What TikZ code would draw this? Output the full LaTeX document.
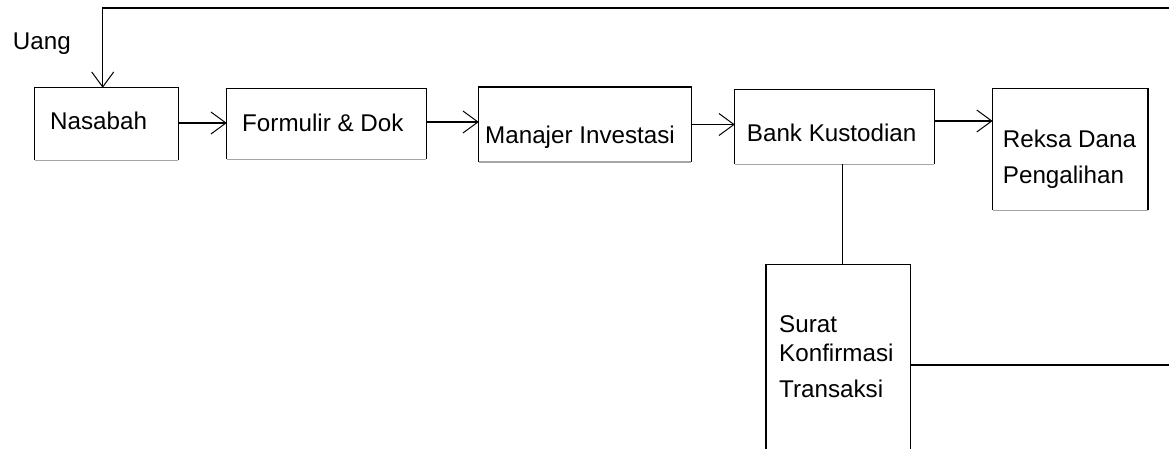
\documentclass[tikz,border=0pt]{standalone}
\usepackage{fontspec}
\setmainfont{Liberation Sans}
\usetikzlibrary{arrows.meta}
\begin{document}
\begin{tikzpicture}[x=1pt,y=-1pt,
  box/.style={draw=none,inner sep=0pt,minimum width=#1},
  lbl/.style={anchor=base west,inner sep=0pt,font=\fontsize{24.2}{29}\selectfont},
  arr/.style={line width=1.2pt,-{Straight Barb[length=15pt,width=22pt,line width=1pt]}},
  ln/.style={line width=1.2pt}]
\useasboundingbox (0,0) rectangle (1169,449);
\clip (0,0) rectangle (1169,449);
% boxes
\node[box=143,minimum height=72] (nas) at (106.5,124) {};
\node[box=199,minimum height=70] (form) at (326.5,124) {};
\node[box=212,minimum height=74.5] (man) at (585,124.5) {};
\node[box=199,minimum height=74] (bank) at (834.5,127) {};
\node[box=155,minimum height=121] (reksa) at (1070.3,149.5) {};
\node[box=144,minimum height=200] (surat) at (838.2,364.7) {};
\foreach \b in {nas,form,man,bank,reksa,surat}{
  \draw[ln] (\b.south west) |- (\b.north east) -- (\b.south east);
  \draw[line width=1.2pt,black!35] (\b.south west) -- (\b.south east);
}
% texts
\node[lbl] (tuang) at (12.7,50) {Uang};
\node[lbl] (tnas) at (50,129.3) {Nasabah};
\node[lbl] (tform) at (242,132) {Formulir \& Dok};
\node[lbl] (tman) at (485,144) {Manajer Investasi};
\node[lbl] (tbank) at (746.7,141.7) {Bank Kustodian};
\node[lbl] (trek1) at (1002.7,147.7) {Reksa Dana};
\node[lbl] (trek2) at (1002.7,183.3) {Pengalihan};
\node[lbl] (ts1) at (779,332.3) {Surat};
\node[lbl] (ts2) at (779,361) {Konfirmasi};
\node[lbl] (ts3) at (779,397.3) {Transaksi};
% connectors
\coordinate (tr) at (1169,8);
\coordinate (tl) at (102.7,8);
\coordinate (re) at (1169,365);
\draw[arr] (tr) -- (tl) -- (tl |- nas.north);
\draw[arr] ([yshift=1pt]nas.east) -- ([yshift=1pt]nas.east -| form.west);
\draw[arr] ([yshift=2pt]form.east) -- ([yshift=2pt]form.east -| man.west);
\draw[arr] (man.east) -- (man.east -| bank.west);
\draw[arr] ([yshift=6pt]bank.east) -- ([yshift=6pt]bank.east -| reksa.west);
\draw[ln] ([xshift=8.2pt]bank.south) -- ([xshift=8.2pt]bank.south |- surat.north);
\draw[ln] (surat.east |- re) -- (re);
\end{tikzpicture}
\end{document}
